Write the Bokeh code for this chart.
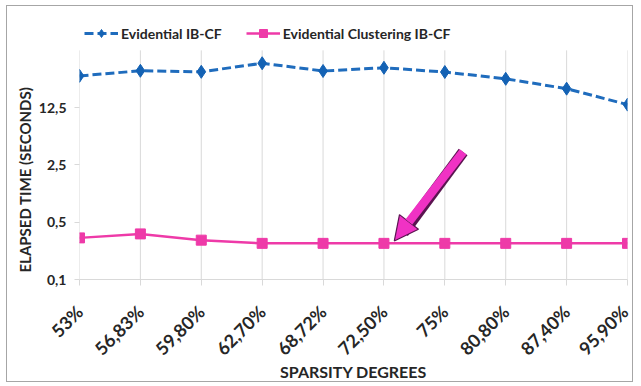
import math
from bokeh.plotting import figure
from bokeh.models import (Range1d, FixedTicker, Legend, LegendItem, Arrow, NormalHead, ColumnDataSource, Title)
from bokeh.embed import file_html
from bokeh.resources import INLINE

categories = ["53%", "56,83%", "59,80%", "62,70%", "68,72%", "72,50%", "75%", "80,80%", "87,40%", "95,90%"]
evidential_ibcf = [30.5, 35.2, 34.2, 43.5, 35.0, 38.3, 34.0, 28.1, 21.3, 13.6]
evidential_clustering_ibcf = [0.322, 0.36, 0.302, 0.276, 0.276, 0.276, 0.276, 0.276, 0.276, 0.276]
y_ticks = [0.1, 0.5, 2.5, 12.5]
y_tick_labels = ["0,1", "0,5", "2,5", "12,5"]
y_min, y_max = 0.1, 62.5

FONT = "Lato"
BLUE = "#1f6cbd"
PINK = "#ee3aa8"
TXT = "#262626"

xs = list(range(len(categories)))

# extra headroom above the data area for the legend (41 px at 57.5 px per factor 5)
y_top = y_max * 5 ** (41 / 57.5)

p = figure(width=627, height=377, y_axis_type="log",
           x_range=Range1d(0, len(categories) - 1), y_range=Range1d(y_min, y_top),
           output_backend="svg", toolbar_location=None,
           min_border_left=72, min_border_right=7, min_border_top=3, min_border_bottom=103)
p.margin = (5, 0, 0, 6)
p.styles = {"border": "1px solid #a6a6a6"}
p.outline_line_color = None
p.background_fill_color = "white"

p.xgrid.grid_line_color = None
p.ygrid.grid_line_color = None
p.segment(x0=xs, y0=[y_min] * len(xs), x1=xs, y1=[y_max] * len(xs), line_color="#d9d9d9", line_width=1)

p.xaxis.ticker = FixedTicker(ticks=xs)
p.xaxis.major_label_overrides = {i: c for i, c in enumerate(categories)}
p.xaxis.major_label_orientation = math.pi / 4
p.xaxis.major_label_standoff = 23
p.xaxis.axis_line_color = "#d9d9d9"
p.xaxis.major_tick_line_color = "#d9d9d9"
p.xaxis.major_tick_out = 6
p.xaxis.major_tick_in = 0
p.xaxis.minor_tick_line_color = None
p.yaxis.ticker = FixedTicker(ticks=y_ticks)
p.yaxis.major_label_overrides = {t: l for t, l in zip(y_ticks, y_tick_labels)}
p.yaxis.axis_line_color = None
p.yaxis.major_tick_line_color = "#d9d9d9"
p.yaxis.major_tick_out = 5
p.yaxis.major_tick_in = 0
p.yaxis.major_label_standoff = 8
p.yaxis.minor_tick_line_color = None
for ax in (p.xaxis, p.yaxis):
    ax.major_label_text_font = FONT
    ax.major_label_text_font_style = "bold"
    ax.major_label_text_color = TXT
    ax.axis_label_text_font = FONT
    ax.axis_label_text_font_style = "bold"
    ax.axis_label_text_color = TXT
    ax.axis_label_text_font_size = "16px"
p.xaxis.major_label_text_font_size = "18px"
p.yaxis.major_label_text_font_size = "14px"
p.xaxis.axis_label = "SPARSITY DEGREES"
p.xaxis.axis_label_standoff = -8

ytitle = Title(text="ELAPSED TIME (SECONDS)", align="left", offset=7, standoff=3,
               text_font=FONT, text_font_style="bold", text_font_size="15px", text_color=TXT)
p.add_layout(ytitle, "left")

src = ColumnDataSource(dict(x=xs, a=evidential_ibcf, b=evidential_clustering_ibcf))

l1 = p.line("x", "a", source=src, line_color=BLUE, line_width=3, line_dash="9 4")
m1 = p.scatter("x", "a", source=src, marker="diamond", size=13, fill_color="#1462b4", line_color="#1462b4")
l2 = p.line("x", "b", source=src, line_color=PINK, line_width=2.5)
m2 = p.scatter("x", "b", source=src, marker="square", size=10, fill_color=PINK, line_color=PINK)

# arrow annotation pointing at the 72,50% point of the clustering series
target = 5
head = NormalHead(size=24, fill_color="#f032c4", line_color="#5a1450", line_width=1.2)
p.add_layout(Arrow(end=None, x_start=target + 1.3, y_start=3.6, x_end=target + 0.32,
                   y_end=evidential_clustering_ibcf[target] * 1.35,
                   line_color="#5a1450", line_width=11))
p.add_layout(Arrow(end=head, x_start=target + 1.3, y_start=3.6, x_end=target + 0.17,
                   y_end=evidential_clustering_ibcf[target] * 1.07,
                   line_color="#f032c4", line_width=8.5))

legend = Legend(items=[LegendItem(label="Evidential IB-CF", renderers=[l1, m1]),
                       LegendItem(label="Evidential Clustering IB-CF", renderers=[l2, m2])],
                orientation="horizontal", location=(5, 236), margin=0, padding=2,
                label_text_font=FONT, label_text_font_style="bold", label_text_font_size="14px",
                label_text_color=TXT, glyph_width=34, glyph_height=20, spacing=24, label_standoff=3,
                border_line_color=None, background_fill_alpha=0)
p.add_layout(legend, "center")

open("out.html", "w").write(file_html(p, INLINE))
